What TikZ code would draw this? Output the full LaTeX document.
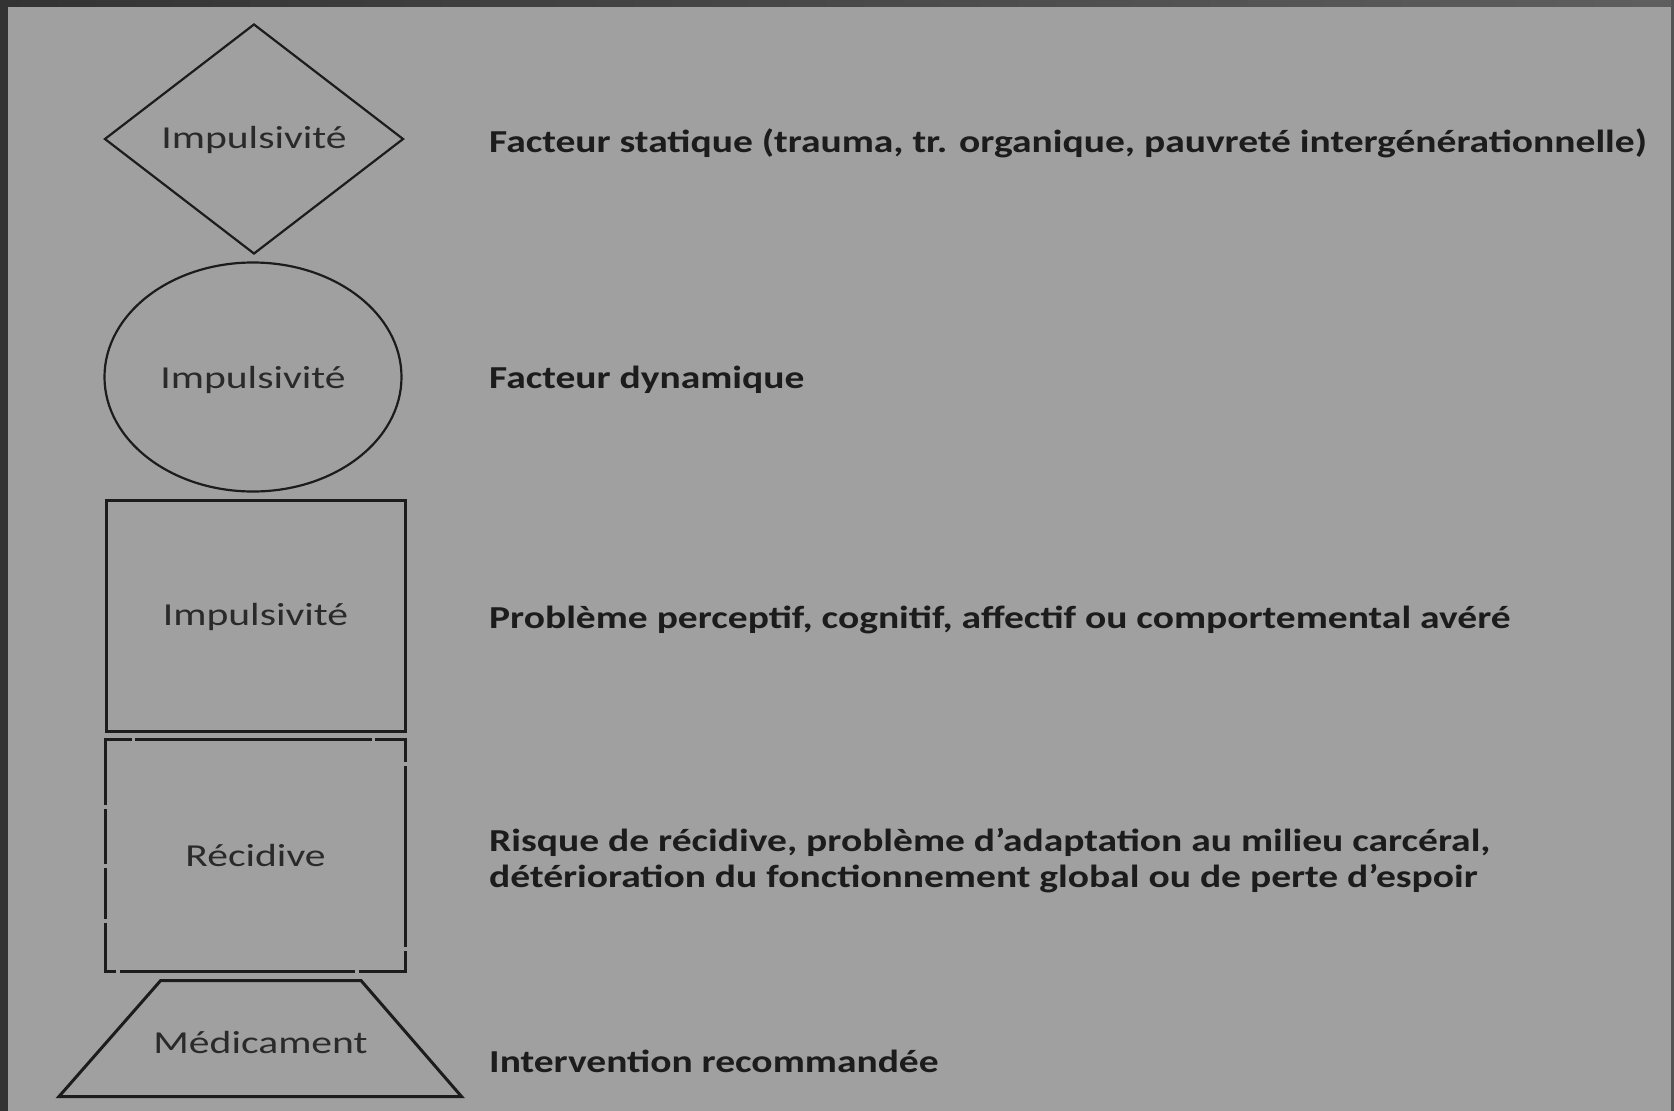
\documentclass[tikz,border=0pt]{standalone}
\usepackage{fontspec}
\setmainfont{Carlito}[FakeStretch=1.3]
\newfontfamily\descfont{Carlito}[FakeStretch=1.235]
\usetikzlibrary{shapes.geometric}

\definecolor{bg}{HTML}{A0A0A0}
\definecolor{frame}{HTML}{333333}
\definecolor{ink}{HTML}{1C1C1C}
\definecolor{lbl}{HTML}{2A2A2A}

\begin{document}
\begin{tikzpicture}[x=1pt,y=-1pt,
  outline/.style={draw=ink, line width=3pt},
  lbltext/.style={font=\fontsize{32}{36}\selectfont, text=lbl, inner sep=0pt},
  desc/.style={anchor=west, font=\descfont\bfseries\fontsize{32}{36.3}\selectfont, text=ink, align=left, inner sep=0pt}]

% background and dark frame
\fill[bg] (0,0) rectangle (1674,1111);
\useasboundingbox (0,0) rectangle (1674,1111);
\shade[left color=frame, right color=frame!60!bg] (0,0) rectangle (1674,6);
\fill[frame] (0,0) rectangle (8,1111);
\fill[frame!70!bg] (1671,0) rectangle (1674,1111);

% diamond
\node[diamond, outline, line width=2.2pt, minimum width=299pt, minimum height=230pt, inner sep=0pt] (d) at (254,139) {};
\node[lbltext] (dl) at (254,139.5) {Impulsivité};

% ellipse
\node[ellipse, outline, line width=2.2pt, minimum width=297pt, minimum height=229pt, inner sep=0pt] (e) at (253,377) {};
\node[lbltext] (el) at (253,379.5) {Impulsivité};

% solid rectangle
\node[rectangle, outline, minimum width=299pt, minimum height=231pt, inner sep=0pt] (r) at (255.5,615.5) {};
\node[lbltext] (rl) at (255.5,616.5) {Impulsivité};

% dashed rectangle, each side with its own gaps
\node[rectangle, minimum width=299pt, minimum height=231pt, inner sep=0pt] (q) at (255.5,855.5) {};
\draw[outline, line cap=rect, dash pattern=on 25pt off 6pt on 234pt off 6pt on 100pt] (q.north west) -- (q.north east);
\draw[outline, line cap=rect, dash pattern=on 64pt off 7pt on 52pt off 7pt on 48pt off 7pt on 100pt] (q.north west) -- (q.south west);
\draw[outline, line cap=rect, dash pattern=on 21pt off 7pt on 178pt off 7pt on 100pt] (q.north east) -- (q.south east);
\draw[outline, line cap=rect, dash pattern=on 9pt off 7pt on 232pt off 7pt on 100pt] (q.south west) -- (q.south east);
\node[lbltext] (ql) at (255.5,855) {Récidive};

% trapezoid
\coordinate (t1) at (160.7,980.5);
\coordinate (t2) at (361,980.5);
\coordinate (t3) at (461.5,1096.5);
\coordinate (t4) at (59,1096.5);
\draw[outline, line join=miter] (t1) -- (t2) -- (t3) -- (t4) -- cycle;
\node[lbltext] (tl) at (260.5,1042) {Médicament};

% descriptions
\node[desc] (dd) at (489,143) {Facteur statique (trauma, tr. organique, pauvreté intergénérationnelle)};
\node[desc] (ed) at (489,380) {Facteur dynamique};
\node[desc] (rd) at (489,620) {Problème perceptif, cognitif, affectif ou comportemental avéré};
\node[desc] (qd) at (489,860.5) {Risque de récidive, problème d’adaptation au milieu carcéral,\\détérioration du fonctionnement global ou de perte d’espoir};
\node[desc] (td) at (489,1061) {Intervention recommandée};
\end{tikzpicture}
\end{document}
